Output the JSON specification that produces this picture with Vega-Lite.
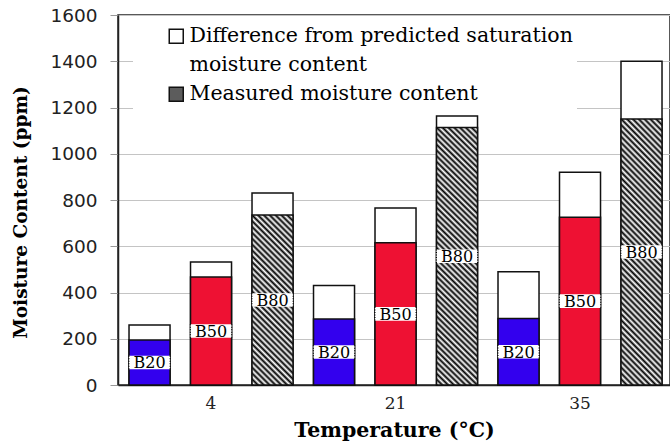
{
  "$schema": "https://vega.github.io/schema/vega-lite/v6.json",
  "width": 552,
  "height": 370,
  "autosize": {"type": "none"},
  "padding": {"left": 118, "top": 15, "right": 0, "bottom": 60},
  "background": "white",
  "config": {
    "view": {"stroke": "#222", "strokeWidth": 1.5},
    "legend": {
      "orient": "none",
      "legendX": 15,
      "legendY": 7,
      "title": null,
      "fillColor": "white",
      "padding": 4,
      "symbolType": "square",
      "symbolSize": 196,
      "symbolStrokeWidth": 1.5,
      "symbolOpacity": 1,
      "symbolOffset": 29,
      "labelFont": "DejaVu Serif",
      "labelFontSize": 20.5,
      "labelColor": "black",
      "labelOffset": 3,
      "labelLimit": 600,
      "rowPadding": 8
    }
  },
  "data": {
    "values": [
      {"temp": "4", "batch": "B20", "bar": "4 B20", "measured": 195, "total": 260},
      {"temp": "4", "batch": "B50", "bar": "4 B50", "measured": 467, "total": 532},
      {"temp": "4", "batch": "B80", "bar": "4 B80", "measured": 735, "total": 830},
      {"temp": "21", "batch": "B20", "bar": "21 B20", "measured": 285, "total": 430},
      {"temp": "21", "batch": "B50", "bar": "21 B50", "measured": 615, "total": 765},
      {"temp": "21", "batch": "B80", "bar": "21 B80", "measured": 1113, "total": 1163},
      {"temp": "35", "batch": "B20", "bar": "35 B20", "measured": 288, "total": 490},
      {"temp": "35", "batch": "B50", "bar": "35 B50", "measured": 725, "total": 920},
      {"temp": "35", "batch": "B80", "bar": "35 B80", "measured": 1150, "total": 1400}
    ]
  },
  "encoding": {
    "x": {
      "field": "bar",
      "type": "nominal",
      "sort": null,
      "scale": {"paddingInner": 0.333, "paddingOuter": 0.1545, "align": 0.58},
      "axis": {
        "title": "Temperature (°C)",
        "labelExpr": "indexof(datum.label, 'B50') >= 0 ? split(datum.label, ' ')[0] : ''",
        "labelOverlap": false,
        "ticks": false,
        "tickSize": 0,
        "labelAngle": 0,
        "labelFont": "DejaVu Serif",
        "labelFontSize": 17,
        "labelColor": "#222",
        "labelPadding": 10,
        "domainColor": "#222",
        "domainWidth": 1.5,
        "grid": false,
        "titleFont": "DejaVu Serif",
        "titleFontSize": 20.5,
        "titleFontWeight": "bold",
        "titleColor": "black",
        "titleBaseline": "middle",
        "titleY": 45
      }
    }
  },
  "layer": [
    {
      "mark": {"type": "bar", "strokeWidth": 1.5},
      "encoding": {
        "y": {
          "field": "total",
          "type": "quantitative",
          "scale": {"domain": [0, 1600], "nice": false},
          "axis": {
            "title": "Moisture Content (ppm)",
            "values": [0, 200, 400, 600, 800, 1000, 1200, 1400, 1600],
            "format": "d",
            "grid": true,
            "gridColor": "#c4c4c4",
            "tickColor": "#999",
            "tickSize": 8,
            "labelFont": "DejaVu Sans",
            "labelFontSize": 18.5,
            "labelColor": "#222",
            "labelPadding": 13,
            "domainColor": "#222",
            "domainWidth": 1.5,
            "titleFont": "DejaVu Serif",
            "titleFontSize": 18.5,
            "titleFontWeight": "bold",
            "titleColor": "black",
            "titleX": -98,
            "titleY": 197,
            "titleBaseline": "middle"
          }
        },
        "color": {
          "datum": "Difference from predicted saturation",
          "type": "nominal",
          "scale": {
            "domain": ["Difference from predicted saturation", "moisture content", "Measured moisture content"],
            "range": ["white", "transparent", "#5c5c5c"]
          },
          "legend": {"title": null}
        },
        "stroke": {
          "datum": "Difference from predicted saturation",
          "type": "nominal",
          "scale": {
            "domain": ["Difference from predicted saturation", "moisture content", "Measured moisture content"],
            "range": ["#111111", "transparent", "#111111"]
          },
          "legend": {"title": null}
        }
      }
    },
    {
      "mark": {"type": "bar", "stroke": "#111", "strokeWidth": 1.5},
      "encoding": {
        "y": {"field": "measured", "type": "quantitative"},
        "fill": {
          "condition": [
            {"test": "datum.batch == 'B20'", "value": "#3300ee"},
            {"test": "datum.batch == 'B50'", "value": "#ee1133"},
            {"test": "datum.temp == '4'", "value": {"gradient": "linear", "x1": 0, "y1": 1, "x2": 0.2829, "y2": -0.173, "stops": [
              {"offset": 0, "color": "#000"}, {"offset": 0.0139, "color": "#fff"}, {"offset": 0.0278, "color": "#000"}, {"offset": 0.0417, "color": "#fff"},
              {"offset": 0.0556, "color": "#000"}, {"offset": 0.0694, "color": "#fff"}, {"offset": 0.0833, "color": "#000"}, {"offset": 0.0972, "color": "#fff"},
              {"offset": 0.1111, "color": "#000"}, {"offset": 0.125, "color": "#fff"}, {"offset": 0.1389, "color": "#000"}, {"offset": 0.1528, "color": "#fff"},
              {"offset": 0.1667, "color": "#000"}, {"offset": 0.1806, "color": "#fff"}, {"offset": 0.1944, "color": "#000"}, {"offset": 0.2083, "color": "#fff"},
              {"offset": 0.2222, "color": "#000"}, {"offset": 0.2361, "color": "#fff"}, {"offset": 0.25, "color": "#000"}, {"offset": 0.2639, "color": "#fff"},
              {"offset": 0.2778, "color": "#000"}, {"offset": 0.2917, "color": "#fff"}, {"offset": 0.3056, "color": "#000"}, {"offset": 0.3194, "color": "#fff"},
              {"offset": 0.3333, "color": "#000"}, {"offset": 0.3472, "color": "#fff"}, {"offset": 0.3611, "color": "#000"}, {"offset": 0.375, "color": "#fff"},
              {"offset": 0.3889, "color": "#000"}, {"offset": 0.4028, "color": "#fff"}, {"offset": 0.4167, "color": "#000"}, {"offset": 0.4306, "color": "#fff"},
              {"offset": 0.4444, "color": "#000"}, {"offset": 0.4583, "color": "#fff"}, {"offset": 0.4722, "color": "#000"}, {"offset": 0.4861, "color": "#fff"},
              {"offset": 0.5, "color": "#000"}, {"offset": 0.5139, "color": "#fff"}, {"offset": 0.5278, "color": "#000"}, {"offset": 0.5417, "color": "#fff"},
              {"offset": 0.5556, "color": "#000"}, {"offset": 0.5694, "color": "#fff"}, {"offset": 0.5833, "color": "#000"}, {"offset": 0.5972, "color": "#fff"},
              {"offset": 0.6111, "color": "#000"}, {"offset": 0.625, "color": "#fff"}, {"offset": 0.6389, "color": "#000"}, {"offset": 0.6528, "color": "#fff"},
              {"offset": 0.6667, "color": "#000"}, {"offset": 0.6806, "color": "#fff"}, {"offset": 0.6944, "color": "#000"}, {"offset": 0.7083, "color": "#fff"},
              {"offset": 0.7222, "color": "#000"}, {"offset": 0.7361, "color": "#fff"}, {"offset": 0.75, "color": "#000"}, {"offset": 0.7639, "color": "#fff"},
              {"offset": 0.7778, "color": "#000"}, {"offset": 0.7917, "color": "#fff"}, {"offset": 0.8056, "color": "#000"}, {"offset": 0.8194, "color": "#fff"},
              {"offset": 0.8333, "color": "#000"}, {"offset": 0.8472, "color": "#fff"}, {"offset": 0.8611, "color": "#000"}, {"offset": 0.875, "color": "#fff"},
              {"offset": 0.8889, "color": "#000"}, {"offset": 0.9028, "color": "#fff"}, {"offset": 0.9167, "color": "#000"}, {"offset": 0.9306, "color": "#fff"},
              {"offset": 0.9444, "color": "#000"}, {"offset": 0.9583, "color": "#fff"}, {"offset": 0.9722, "color": "#000"}, {"offset": 0.9861, "color": "#fff"},
              {"offset": 1, "color": "#000"}
            ]}}
          ],
          "value": {"gradient": "linear", "x1": 0, "y1": 1, "x2": 0.177, "y2": -0.129, "stops": [
            {"offset": 0, "color": "#000"}, {"offset": 0.0096, "color": "#fff"}, {"offset": 0.0192, "color": "#000"}, {"offset": 0.0288, "color": "#fff"},
            {"offset": 0.0385, "color": "#000"}, {"offset": 0.0481, "color": "#fff"}, {"offset": 0.0577, "color": "#000"}, {"offset": 0.0673, "color": "#fff"},
            {"offset": 0.0769, "color": "#000"}, {"offset": 0.0865, "color": "#fff"}, {"offset": 0.0962, "color": "#000"}, {"offset": 0.1058, "color": "#fff"},
            {"offset": 0.1154, "color": "#000"}, {"offset": 0.125, "color": "#fff"}, {"offset": 0.1346, "color": "#000"}, {"offset": 0.1442, "color": "#fff"},
            {"offset": 0.1538, "color": "#000"}, {"offset": 0.1635, "color": "#fff"}, {"offset": 0.1731, "color": "#000"}, {"offset": 0.1827, "color": "#fff"},
            {"offset": 0.1923, "color": "#000"}, {"offset": 0.2019, "color": "#fff"}, {"offset": 0.2115, "color": "#000"}, {"offset": 0.2212, "color": "#fff"},
            {"offset": 0.2308, "color": "#000"}, {"offset": 0.2404, "color": "#fff"}, {"offset": 0.25, "color": "#000"}, {"offset": 0.2596, "color": "#fff"},
            {"offset": 0.2692, "color": "#000"}, {"offset": 0.2788, "color": "#fff"}, {"offset": 0.2885, "color": "#000"}, {"offset": 0.2981, "color": "#fff"},
            {"offset": 0.3077, "color": "#000"}, {"offset": 0.3173, "color": "#fff"}, {"offset": 0.3269, "color": "#000"}, {"offset": 0.3365, "color": "#fff"},
            {"offset": 0.3462, "color": "#000"}, {"offset": 0.3558, "color": "#fff"}, {"offset": 0.3654, "color": "#000"}, {"offset": 0.375, "color": "#fff"},
            {"offset": 0.3846, "color": "#000"}, {"offset": 0.3942, "color": "#fff"}, {"offset": 0.4038, "color": "#000"}, {"offset": 0.4135, "color": "#fff"},
            {"offset": 0.4231, "color": "#000"}, {"offset": 0.4327, "color": "#fff"}, {"offset": 0.4423, "color": "#000"}, {"offset": 0.4519, "color": "#fff"},
            {"offset": 0.4615, "color": "#000"}, {"offset": 0.4712, "color": "#fff"}, {"offset": 0.4808, "color": "#000"}, {"offset": 0.4904, "color": "#fff"},
            {"offset": 0.5, "color": "#000"}, {"offset": 0.5096, "color": "#fff"}, {"offset": 0.5192, "color": "#000"}, {"offset": 0.5288, "color": "#fff"},
            {"offset": 0.5385, "color": "#000"}, {"offset": 0.5481, "color": "#fff"}, {"offset": 0.5577, "color": "#000"}, {"offset": 0.5673, "color": "#fff"},
            {"offset": 0.5769, "color": "#000"}, {"offset": 0.5865, "color": "#fff"}, {"offset": 0.5962, "color": "#000"}, {"offset": 0.6058, "color": "#fff"},
            {"offset": 0.6154, "color": "#000"}, {"offset": 0.625, "color": "#fff"}, {"offset": 0.6346, "color": "#000"}, {"offset": 0.6442, "color": "#fff"},
            {"offset": 0.6538, "color": "#000"}, {"offset": 0.6635, "color": "#fff"}, {"offset": 0.6731, "color": "#000"}, {"offset": 0.6827, "color": "#fff"},
            {"offset": 0.6923, "color": "#000"}, {"offset": 0.7019, "color": "#fff"}, {"offset": 0.7115, "color": "#000"}, {"offset": 0.7212, "color": "#fff"},
            {"offset": 0.7308, "color": "#000"}, {"offset": 0.7404, "color": "#fff"}, {"offset": 0.75, "color": "#000"}, {"offset": 0.7596, "color": "#fff"},
            {"offset": 0.7692, "color": "#000"}, {"offset": 0.7788, "color": "#fff"}, {"offset": 0.7885, "color": "#000"}, {"offset": 0.7981, "color": "#fff"},
            {"offset": 0.8077, "color": "#000"}, {"offset": 0.8173, "color": "#fff"}, {"offset": 0.8269, "color": "#000"}, {"offset": 0.8365, "color": "#fff"},
            {"offset": 0.8462, "color": "#000"}, {"offset": 0.8558, "color": "#fff"}, {"offset": 0.8654, "color": "#000"}, {"offset": 0.875, "color": "#fff"},
            {"offset": 0.8846, "color": "#000"}, {"offset": 0.8942, "color": "#fff"}, {"offset": 0.9038, "color": "#000"}, {"offset": 0.9135, "color": "#fff"},
            {"offset": 0.9231, "color": "#000"}, {"offset": 0.9327, "color": "#fff"}, {"offset": 0.9423, "color": "#000"}, {"offset": 0.9519, "color": "#fff"},
            {"offset": 0.9615, "color": "#000"}, {"offset": 0.9712, "color": "#fff"}, {"offset": 0.9808, "color": "#000"}, {"offset": 0.9904, "color": "#fff"},
            {"offset": 1, "color": "#000"}
          ]}
        }
      }
    },
    {
      "mark": {"type": "point", "shape": "M-1,-0.33L1,-0.33L1,0.33L-1,0.33Z", "filled": true, "fill": "white", "opacity": 1, "size": 1700, "strokeWidth": 0},
      "encoding": {
        "y": {"field": "measured", "type": "quantitative", "stack": "zero", "bandPosition": 0.5}
      }
    },
    {
      "mark": {"type": "point", "shape": "M-1,-0.33L-1,0.33M1,-0.33L1,0.33", "filled": false, "stroke": "black", "strokeWidth": 1.2, "strokeDash": [1, 1.5], "opacity": 1, "size": 1700},
      "encoding": {
        "y": {"field": "measured", "type": "quantitative", "stack": "zero", "bandPosition": 0.5}
      }
    },
    {
      "mark": {"type": "text", "font": "DejaVu Serif", "fontSize": 16, "color": "black", "baseline": "middle", "dy": 1},
      "encoding": {
        "y": {"field": "measured", "type": "quantitative", "stack": "zero", "bandPosition": 0.5},
        "text": {"field": "batch"}
      }
    }
  ]
}
